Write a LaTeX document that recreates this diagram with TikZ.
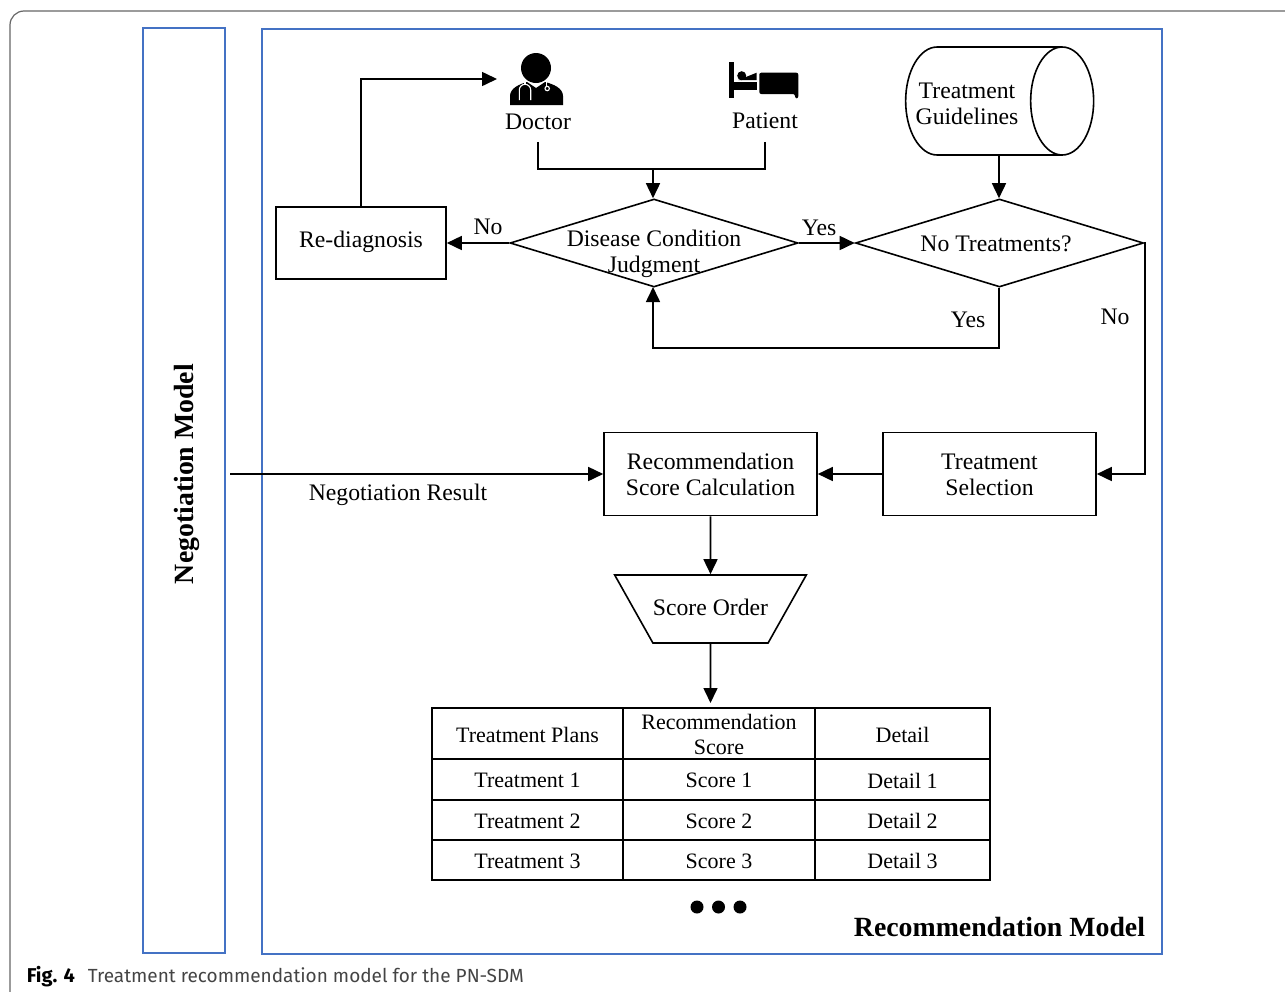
\documentclass[tikz,border=0pt]{standalone}
\usepackage{fontspec}
\setmainfont{Liberation Serif}
\newfontfamily\capfont{Fira Sans}
\usetikzlibrary{shapes.geometric,arrows.meta}
% text lowered inside its node, the node's size and centre stay
\newcommand{\txtdown}[2]{\raisebox{-#1}[\dimexpr\height+#1\relax][\dimexpr\depth+#1\relax]{#2}}
\newcommand{\twolines}[2]{\begin{tabular}{@{}c@{}}#1\\#2\end{tabular}}

\begin{document}
\begin{tikzpicture}[x=1pt,y=-1pt,line width=1.6pt,
    every node/.style={inner sep=0pt,align=center,font=\fontsize{23.7}{26.5}\selectfont},
    flow/.style={-{Triangle[length=15pt,width=14pt]}},
    procbox/.style={draw,rectangle,minimum width=213pt,minimum height=83pt},
    decision/.style={draw,diamond,minimum width=288pt,minimum height=88pt},
    modelbox/.style={draw=modelblue,line width=2pt},
    modeltitle/.style={font=\fontsize{27.8}{30}\selectfont\bfseries},
    tblcell/.style={draw,rectangle,font=\fontsize{22}{25}\selectfont}]
\definecolor{modelblue}{HTML}{4472C4}
\definecolor{framegray}{HTML}{666666}
\definecolor{capgray}{HTML}{444444}
\useasboundingbox (0,0) rectangle (1285,991);

% page frame and caption
\draw[framegray,line width=1.2pt,rounded corners=14pt] (1300,11) -- (10,11) -- (10,1005) -- (1300,1005);
\node[anchor=base west,font=\capfont\fontsize{20}{22}\selectfont\bfseries] (figlabel) at (26,982) {Fig. 4};
\node[anchor=base west,text=capgray,font=\capfont\fontsize{19}{22}\selectfont] (figcaption) at (87,982) {Treatment recommendation model for the PN-SDM};

% the two models
\draw[modelbox] (142.5,28) rectangle (225,952.5);
\draw[modelbox] (262,29) rectangle (1161.5,953.5);
\node[modeltitle,rotate=90] (negmodel) at (187,474) {Negotiation Model};
\node[modeltitle] (recmodel) at (999.5,927) {Recommendation Model};

% doctor icon
\fill (536,68) circle (15);
\fill (510,105) -- (510,96) .. controls (510,88) and (520,84) .. (527,82) -- (536,88) -- (545,82) .. controls (553,84) and (563,88) .. (563,96) -- (563,105) -- cycle;
\draw[white,line width=1.1pt] (519.3,100) -- (519.3,90) arc (180:360:5.7) -- (530.7,100);
\draw[white,line width=1.1pt] (525,82) -- (525,84.5) (546.7,82) -- (546.7,86);
\draw[white,line width=1.1pt] (547.2,88.5) circle (2.2);
% patient icon
\fill (729.3,61.7) rectangle (734,98.3);
\fill (734,81.7) rectangle (756.7,90);
\fill (741.7,75.7) circle (4.5);
\fill (738.3,80) -- (756.7,72.7) -- (756.7,80) -- cycle;
\fill[rounded corners=2pt] (759.3,72.7) -- (798.3,72.7) -- (798.3,98.3) -- (795,98.3) -- (795,94) -- (759.3,94) -- cycle;

\node[minimum height=38pt] (doctor) at (538,122) {Doctor};
\node[minimum height=40pt] (patient) at (765,121) {Patient};
\coordinate (doctorin) at (497,79);
\coordinate (meet) at (653,169);

\node[draw,cylinder,shape aspect=1,minimum width=108pt,minimum height=188pt] (guidelines) at (983.5,101) {\txtdown{5pt}{\makebox[0pt]{\kern-33pt\twolines{Treatment}{Guidelines}}}};

\node[draw,rectangle,minimum width=170pt,minimum height=72.5pt] (rediag) at (361,243) {\txtdown{-1pt}{Re-diagnosis}};
\node[decision] (judge) at (654,243) {};
\node (judgetext) at (654,251) {\txtdown{3pt}{\twolines{Disease Condition}{Judgment}}};
\node[decision] (notreat) at (999.5,243) {};
\node (notreattext) at (996,244) {No Treatments?};
\coordinate (notreatback) at (999,348);
\coordinate (judgeback) at (653,348);
\coordinate (judgein) at (653,287);

\node[procbox] (calc) at (710.5,474) {\txtdown{3pt}{\twolines{Recommendation}{Score Calculation}}};
\node[procbox] (select) at (989.5,474) {\txtdown{3pt}{\twolines{Treatment}{Selection}}};
\coordinate (negstart) at (230,474);
\coordinate (selecttop) at (1145,243);
\coordinate (selectin) at (1145,474);

\node[draw,trapezium,trapezium stretches=true,shape border rotate=180,minimum width=191pt,minimum height=68pt,trapezium left angle=22,trapezium right angle=22] (order) at (710.5,609) {\txtdown{-1pt}{Score Order}};
\coordinate (tablein) at (710.5,703);

% labels on connectors
\node (lblno) at (488,227) {No};
\node (lblyes) at (819,228) {Yes};
\node (lblyesback) at (968,320) {Yes};
\node (lblnoright) at (1115,317) {No};
\node (lblneg) at (398,495) {Negotiation Result};

% connectors
\draw[flow] (rediag.north) -- (rediag.north |- doctorin) -- (doctorin);
\draw (doctor.south) -- (doctor.south |- meet) -- (meet);
\draw (patient.south) -- (patient.south |- meet) -- (meet);
\draw[flow] (meet) -- (meet |- judge.north);
\draw[flow] (judge.west) -- (rediag.east);
\draw[flow] (judge.east) -- (notreat.west);
\draw[flow] (notreatback |- guidelines.south) -- (notreatback |- notreat.north);
\draw[flow] (notreatback |- notreat.south) -- (notreatback) -- (judgeback) -- (judgein);
\draw[flow] (notreat.east) -- (selecttop) -- (selectin) -- (select.east);
\draw[flow] (select.west) -- (calc.east);
\draw[flow] (negstart) -- (calc.west);
\draw[flow] (calc.south) -- (order.north);
\draw[flow] (order.south) -- (tablein);

% result table
\node[tblcell,minimum width=191pt,minimum height=51pt] (headplan) at (527.5,733.5) {\txtdown{1pt}{Treatment Plans}};
\node[tblcell,minimum width=192pt,minimum height=51pt] (headscore) at (719,733.5) {};
\node[font=\fontsize{22}{25}\selectfont] (headscoretext) at (719,734.5) {Recommendation\\Score};
\node[tblcell,minimum width=175pt,minimum height=51pt] (headdetail) at (902.5,733.5) {\txtdown{1pt}{Detail}};
\foreach \i/\rowy/\rowh in {1/779.5/41,2/820/40,3/860/40} {
    \node[tblcell,minimum width=191pt,minimum height=\rowh pt] (plan\i) at (527.5,\rowy) {\txtdown{1pt}{Treatment \i}};
    \node[tblcell,minimum width=192pt,minimum height=\rowh pt] (score\i) at (719,\rowy) {\txtdown{1pt}{Score \i}};
    \node[tblcell,minimum width=175pt,minimum height=\rowh pt] (detail\i) at (902.5,\rowy) {\txtdown{1pt}{Detail \i}};
}
\foreach \i/\dotx in {1/697,2/718.5,3/740} {
    \node[circle,fill=black,minimum size=13pt] (dot\i) at (\dotx,907) {};
}
\end{tikzpicture}
\end{document}
